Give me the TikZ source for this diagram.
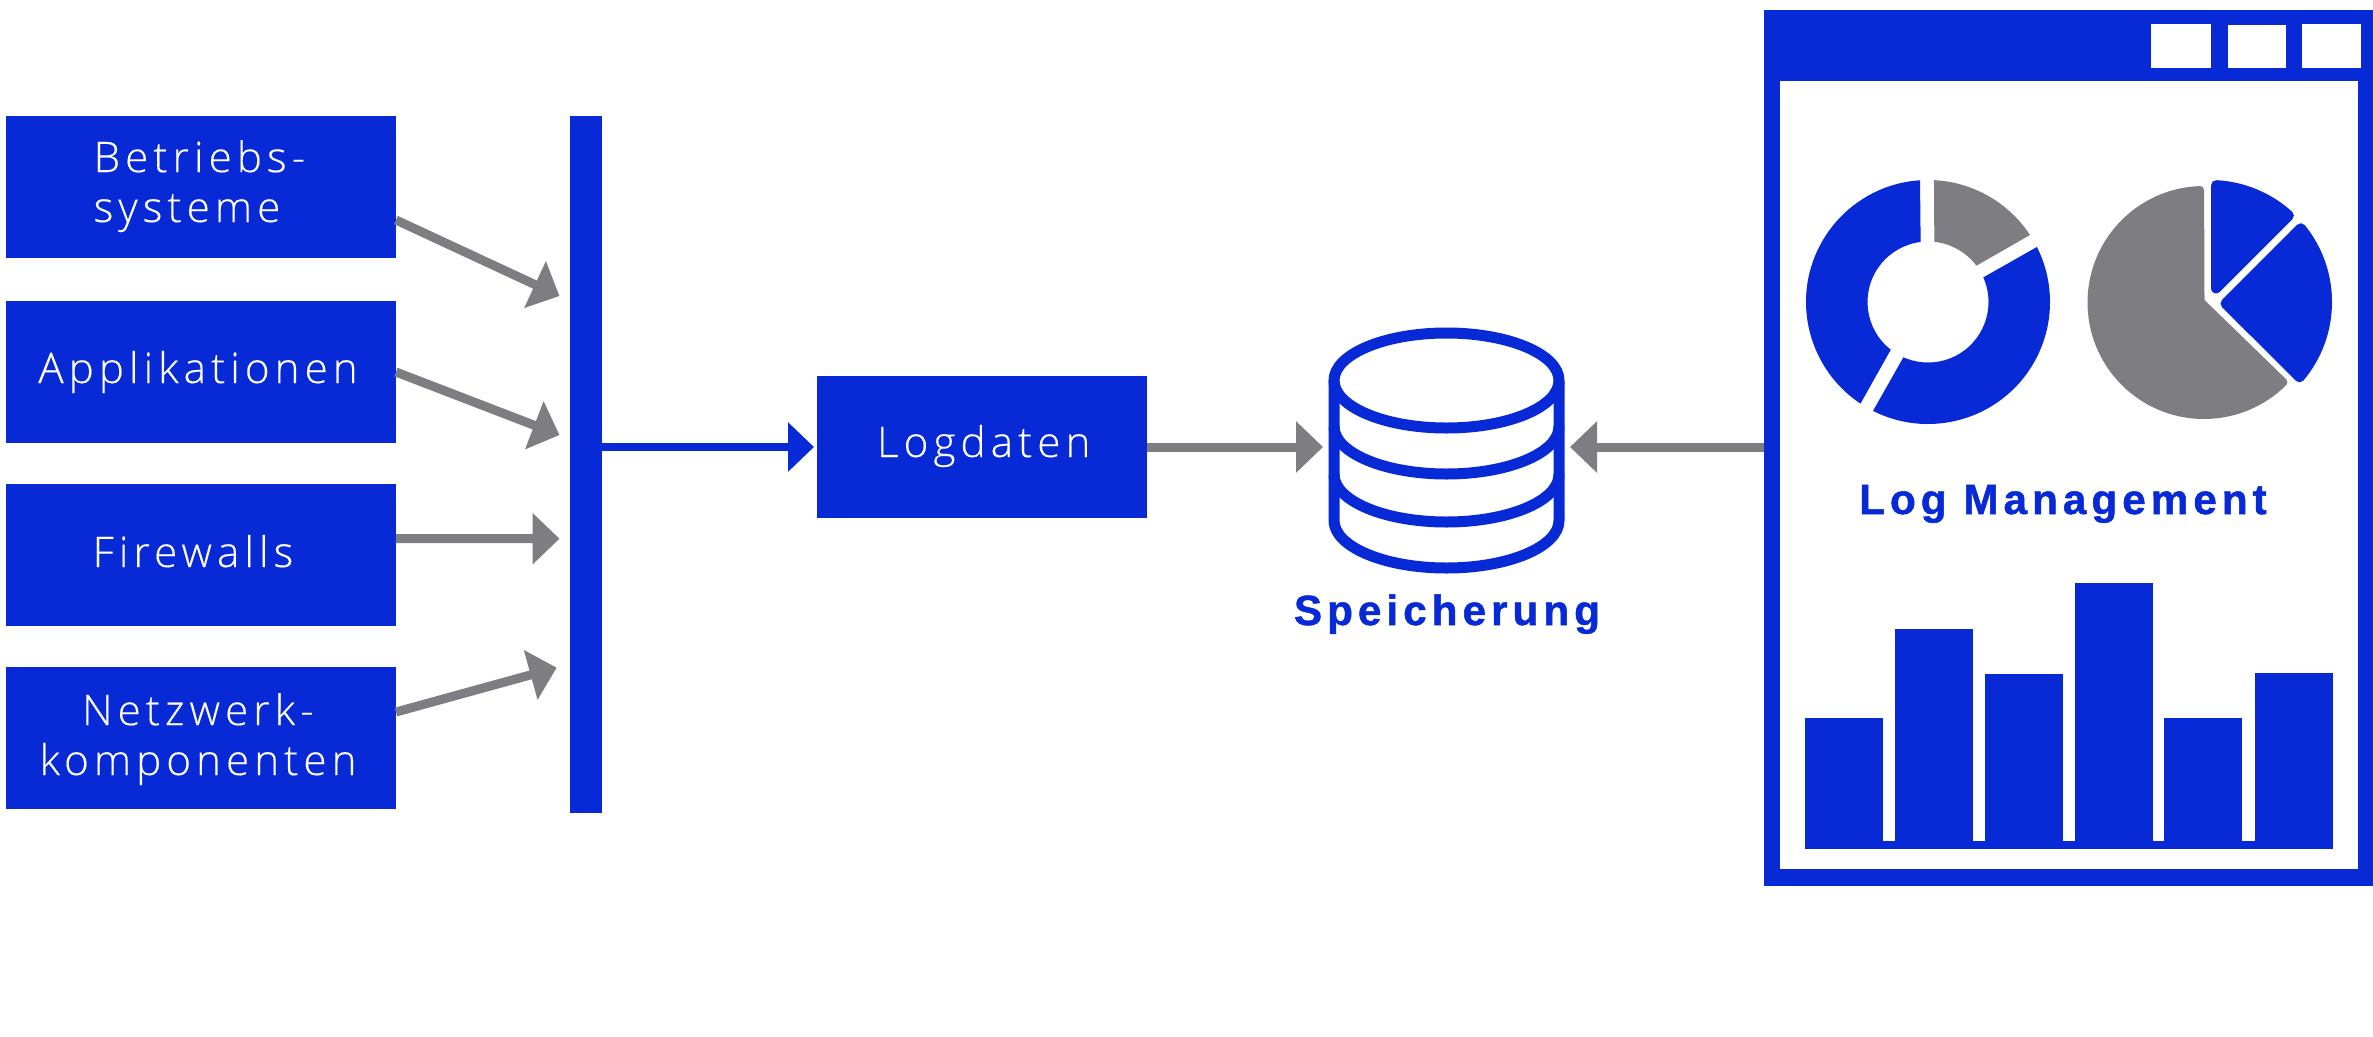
\documentclass[tikz,border=0pt]{standalone}
\usepackage{fontspec}
\setmainfont{Liberation Sans}
\newfontfamily\lightfont[LetterSpace=12,Ligatures=NoCommon,FakeBold=0.25]{Open Sans Light}
\newfontfamily\headfont[LetterSpace=12,FakeBold=1.2]{Liberation Sans Bold}
\usetikzlibrary{arrows.meta}
\definecolor{brand}{HTML}{0729D6}
\definecolor{slate}{HTML}{7E7E82}
\newlength\pxu
\setlength\pxu{0.05cm}
% text set at dx,dy (px) from the middle of its box; dy reaches the baseline of the last line
\newcommand\placedtext[3]{\makebox[0pt]{\hspace*{#1\pxu}\hspace*{#1\pxu}\raisebox{-#2\pxu}[0pt][0pt]{#3}}}
\newcommand\twolines[3]{\renewcommand\arraystretch{1}\begin{tabular}[b]{@{}#1@{}}#2\\#3\end{tabular}}
\tikzset{
  block/.style={fill=brand,text=white,inner sep=0pt,outer sep=0pt,anchor=north west,
    font=\lightfont\fontsize{60}{71}\selectfont},
  source/.style={block,minimum width=19.5cm,minimum height=7.1cm},
  solid block/.style={fill=brand,inner sep=0pt,outer sep=0pt,anchor=north west},
  greyflow/.style={draw=slate,line width=0.45cm,-{Triangle[length=1.35cm,width=2.5cm,fill=slate]}},
  blueflow/.style={draw=brand,line width=0.4cm,-{Triangle[length=1.3cm,width=2.4cm,fill=brand]}},
  cyl/.style={draw=brand,line width=0.55cm,line cap=butt,line join=round},
  title/.style={text=brand,inner sep=0pt,outer sep=0pt,font=\headfont\fontsize{60}{72}\selectfont},
  softblue/.style={fill=brand,draw=brand,line width=0.5cm,line join=round},
  softgrey/.style={fill=slate,draw=slate,line width=0.4cm,line join=round},
  winbtn/.style={fill=white,inner sep=0pt,outer sep=0pt,anchor=north west},
  bar/.style={solid block,anchor=south west,minimum width=3.9cm},
}
\begin{document}
\begin{tikzpicture}[x=0.05cm,y=-0.05cm]
\useasboundingbox (0,0) rectangle (2373,1036);
% sources
\node[source] (b1) at (6,116) {\placedtext{-1.5}{35}{\twolines{l}{Betriebs-}{systeme}}};
\node[source] (b2) at (6,301) {\placedtext{-3}{11}{Applikationen}};
\node[source] (b3) at (6,484) {\placedtext{-8}{12}{Firewalls}};
\node[source] (b4) at (6,667) {\placedtext{-3}{37}{\twolines{c}{Netzwerk-}{komponenten}}};
\node[solid block,minimum width=1.6cm,minimum height=34.85cm] (busbar) at (569.5,116) {};
\node[block,minimum width=16.5cm,minimum height=7.1cm] (logd) at (817,376) {\placedtext{1.7}{10}{Logdaten}};
% arrows from sources to bus
\coordinate (t1) at (559.5,296);
\coordinate (t2) at (559.5,435);
\coordinate (t3) at (559.5,538.7);
\coordinate (t4) at (556.7,667.7);
\draw[greyflow] ([yshift=-1.65cm]b1.east) -- (t1);
\draw[greyflow] (b2.east) -- (t2);
\draw[greyflow] ([yshift=0.815cm]b3.east) -- (t3);
\draw[greyflow] ([yshift=1.3cm]b4.east) -- (t4);
\coordinate (tl) at (814,447);
\draw[blueflow] (busbar.east |- tl) -- (tl);
% database
\coordinate (dbw) at (1323,447);
\coordinate (dbe) at (1570,447);
\draw[greyflow] (logd.east |- dbw) -- (dbw);
\begin{scope}[shift={(1446.5,380.5)},y=0.05cm]
  \draw[cyl] (0,0) ellipse [x radius=112.5,y radius=47.5];
  \draw[cyl] (-112.5,0) -- (-112.5,-140) arc[start angle=180,end angle=360,x radius=112.5,y radius=47.5] -- (112.5,0);
  \draw[cyl] (-112.5,-46) arc[start angle=180,end angle=360,x radius=112.5,y radius=47.5];
  \draw[cyl] (-112.5,-94) arc[start angle=180,end angle=360,x radius=112.5,y radius=47.5];
\end{scope}
\node[title,anchor=base] (spei) at (1447,625) {Speicherung};
% window
\node[solid block,minimum width=30.45cm,minimum height=43.8cm] (win) at (1764,10) {};
\node[winbtn,minimum width=28.95cm,minimum height=39.4cm] (pane) at (1779.5,81) {};
\node[winbtn,minimum width=3cm,minimum height=2.2cm] (w1) at (2151,24) {};
\node[winbtn,minimum width=2.9cm,minimum height=2.15cm] (w2) at (2228,25) {};
\node[winbtn,minimum width=2.95cm,minimum height=2.2cm] (w3) at (2302,24) {};
\draw[greyflow] (win.west |- dbe) -- (dbe);
% donut
\begin{scope}[shift={(1928,302)},y=0.05cm]
  \fill[brand] (93.75:122) arc[start angle=93.75,end angle=236.4,radius=122] -- (232:60.5) arc[start angle=232,end angle=97,radius=60.5] -- cycle;
  \fill[brand] (243.2:122) arc[start angle=243.2,end angle=386.8,radius=122] -- (384:60.5) arc[start angle=384,end angle=246,radius=60.5] -- cycle;
  \fill[slate] (87.2:122) arc[start angle=87.2,end angle=33.3,radius=122] -- (36.9:60.5) arc[start angle=36.9,end angle=84,radius=60.5] -- cycle;
\end{scope}
% pie
\begin{scope}[shift={(2204,302.5)},y=0.05cm]
  \draw[softgrey] (-3.5,0.8) -- (92:112.5) arc[start angle=92,end angle=314.9,radius=112.5] -- cycle;
\end{scope}
\begin{scope}[shift={(2210,302)},y=0.05cm]
  \draw[softblue] (6,13.5) -- (87:117) arc[start angle=87,end angle=47.6,radius=117] -- cycle;
  \draw[softblue] (15.5,-1.5) -- (39.1:117) arc[start angle=39.1,end angle=-40.1,radius=117] -- cycle;
\end{scope}
\node[title,anchor=base] (logm) at (2063,514) {Log Management};
% bar chart
\node[solid block,anchor=north west,minimum width=26.4cm,minimum height=0.4cm] (axis) at (1805.3,841) {};
\node[bar,minimum height=6.2cm] (c1) at (1805.3,842) {};
\node[bar,minimum height=10.65cm] (c2) at (1895,842) {};
\node[bar,minimum height=8.4cm] (c3) at (1985.2,842) {};
\node[bar,minimum height=12.95cm] (c4) at (2074.7,842) {};
\node[bar,minimum height=6.2cm] (c5) at (2163.8,842) {};
\node[bar,minimum height=8.45cm] (c6) at (2255,842) {};
\end{tikzpicture}
\end{document}
